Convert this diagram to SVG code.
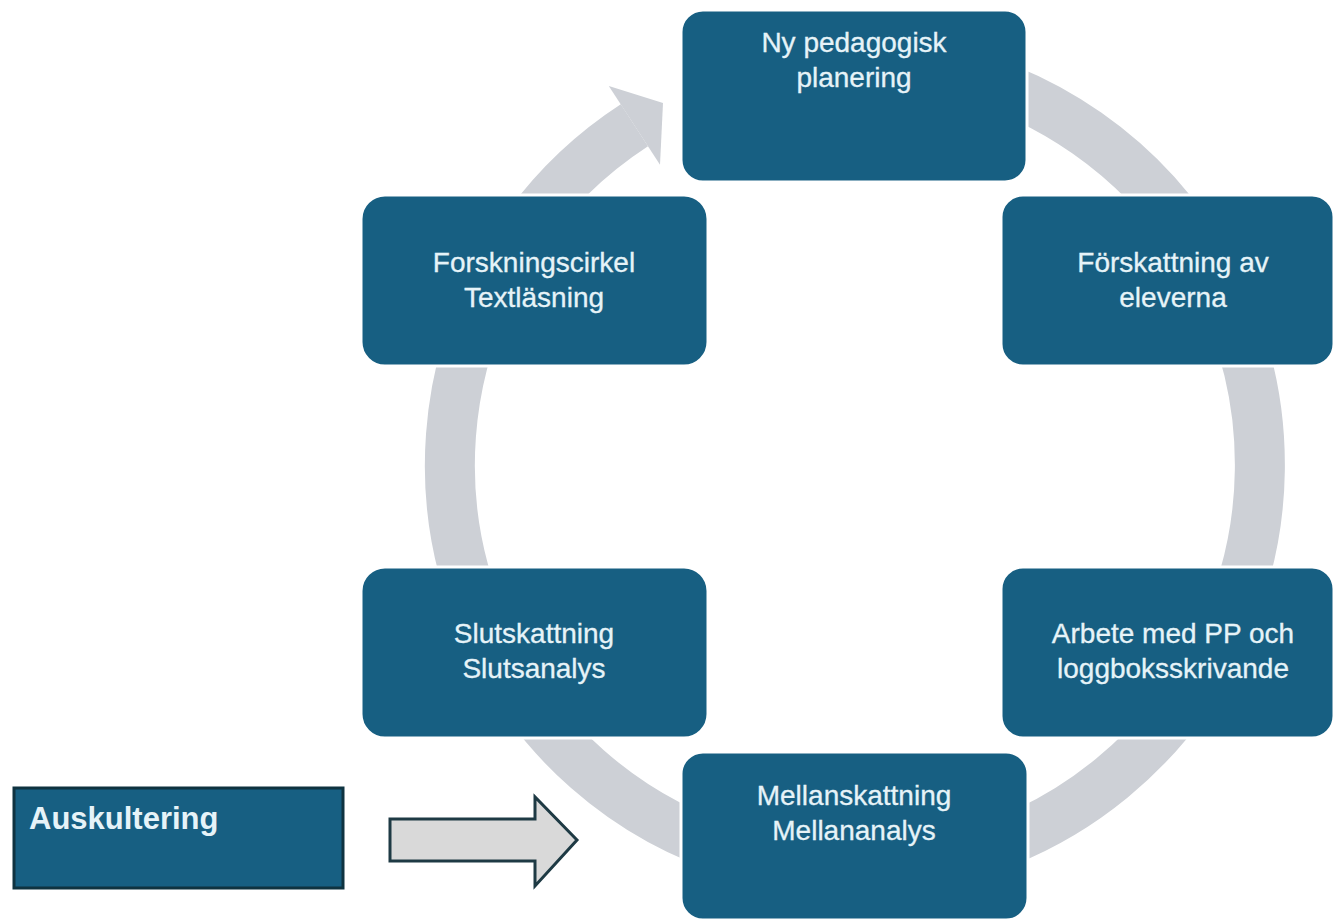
<svg xmlns="http://www.w3.org/2000/svg" width="1335" height="922" viewBox="0 0 1335 922">
<style>
.box{fill:#175f82;stroke:#ffffff;stroke-width:3}
.t{font-family:"Liberation Sans",Arial,sans-serif;font-size:28px;fill:#e6f3f8;text-anchor:middle;stroke:#e6f3f8;stroke-width:0.3}
.ta{font-family:"Liberation Sans",Arial,sans-serif;font-size:31px;font-weight:bold;fill:#e6f3f8}
</style>
<rect width="1335" height="922" fill="#ffffff"/>
<g id="connectors">
<path d="M925.3 66.2 A405 405 0 1 1 634.4 125.3" fill="none" stroke="#cdd0d6" stroke-width="50"/>
<polygon points="608.8,85.9 663,103 660,164.7" fill="#cdd0d6"/>
<polygon points="390,819 535,819 535,797 577,840 535,886 535,861 390,861" fill="#d9d9d9" stroke="#1e3a44" stroke-width="3" stroke-linejoin="miter"/>
</g>
<g id="n-top">
<rect class="box" x="681" y="10" width="346" height="172" rx="22"/>
<text class="t" x="854" y="52">Ny pedagogisk</text>
<text class="t" x="854" y="87">planering</text>
</g>
<g id="n-forskning">
<rect class="box" x="361" y="195" width="347" height="171" rx="24"/>
<text class="t" x="534" y="272">Forskningscirkel</text>
<text class="t" x="534" y="307">Textläsning</text>
</g>
<g id="n-forskattning">
<rect class="box" x="1001" y="195" width="333" height="171" rx="22"/>
<text class="t" x="1173" y="272">Förskattning av</text>
<text class="t" x="1173" y="307">eleverna</text>
</g>
<g id="n-slut">
<rect class="box" x="361" y="567" width="347" height="171" rx="24"/>
<text class="t" x="534" y="643">Slutskattning</text>
<text class="t" x="534" y="678">Slutsanalys</text>
</g>
<g id="n-arbete">
<rect class="box" x="1001" y="567" width="333" height="171" rx="22"/>
<text class="t" x="1173" y="643">Arbete med PP och</text>
<text class="t" x="1173" y="678">loggboksskrivande</text>
</g>
<g id="n-mellan">
<rect class="box" x="681" y="752" width="347" height="168" rx="22"/>
<text class="t" x="854" y="805">Mellanskattning</text>
<text class="t" x="854" y="840">Mellananalys</text>
</g>
<g id="n-auskultering">
<rect x="14" y="788" width="329" height="100" fill="#175f82" stroke="#0f3340" stroke-width="3"/>
<text class="ta" x="29" y="829">Auskultering</text>
</g>
</svg>
